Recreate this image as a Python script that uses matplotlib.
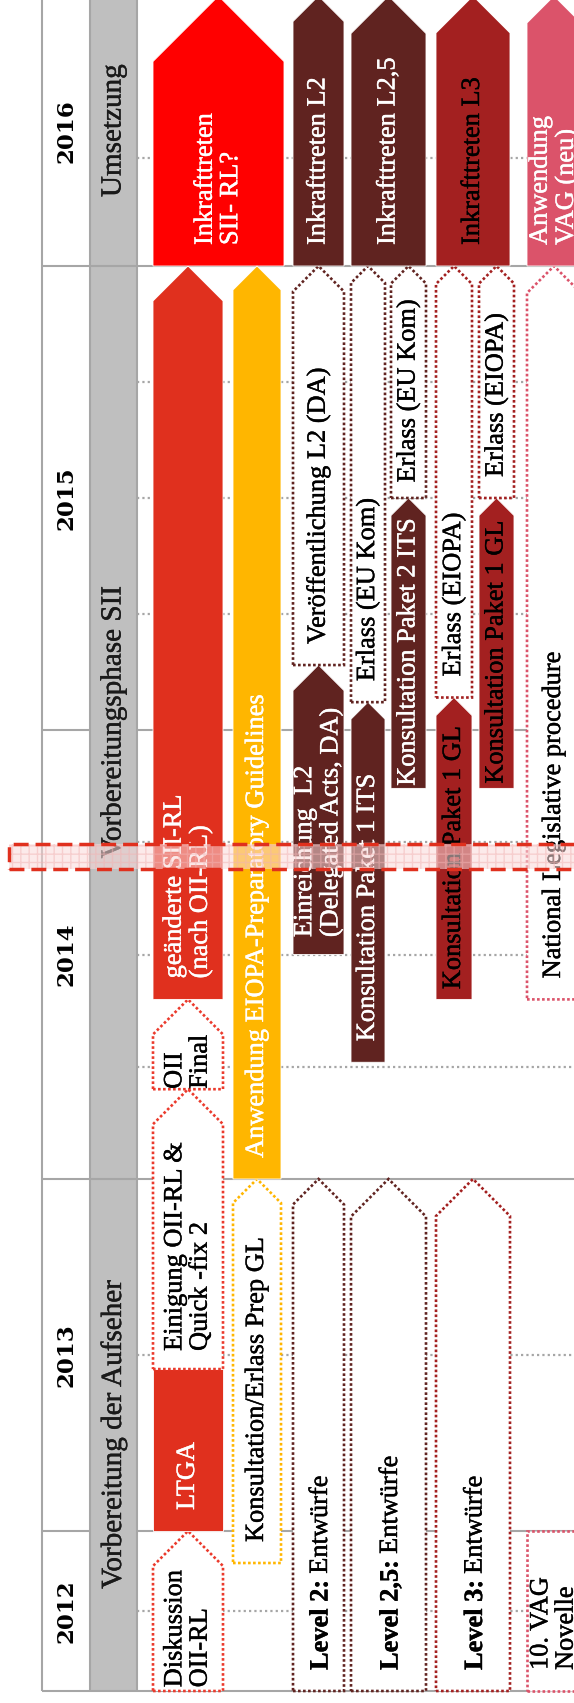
import numpy as np
import matplotlib
matplotlib.use("Agg")
import matplotlib.pyplot as plt
import matplotlib.patheffects as pe
from matplotlib.patches import Polygon, Rectangle

# timeline content, dates as decimal years
years = [2012, 2013, 2014, 2015, 2016]
phase_names = ["Vorbereitung der Aufseher", "Vorbereitungsphase SII", "Umsetzung"]
phase_start = [2012.0, 2014.0, 2016.0]
phase_end = [2014.0, 2016.0, 2017.0]
quarter_lines = [2012.5, 2013.5, 2014.25, 2014.5, 2014.75, 2015.25, 2015.5, 2015.75, 2016.4]
today_band = [2014.69, 2014.745]

labels = [
    "Diskussion\nOII-RL", "LTGA", "Einigung OII-RL &\nQuick -fix 2", "OII\nFinal",
    "geänderte SII-RL\n(nach OII-RL)", "Inkrafttreten\nSII- RL?",
    "Konsultation/Erlass Prep GL", "Anwendung EIOPA-Preparatory Guidelines",
    "Level 2: Entwürfe", "Einreichung  L2\n(Delegated Acts, DA)", "Veröffentlichung L2 (DA)", "Inkrafttreten L2",
    "Level 2,5: Entwürfe", "Konsultation Paket 1 ITS", "Erlass (EU Kom)",
    "Konsultation Paket 2 ITS", "Erlass (EU Kom)", "Inkrafttreten L2,5",
    "Level 3: Entwürfe", "Konsultation Paket 1 GL", "Erlass (EIOPA)",
    "Konsultation Paket 1 GL", "Erlass (EIOPA)", "Inkrafttreten L3",
    "10. VAG\nNovelle", "National Legislative procedure", "Anwendung\nVAG (neu)",
]
lanes = ["SII"] * 6 + ["EIOPA"] * 2 + ["L2"] * 4 + ["L2,5"] * 6 + ["L3"] * 6 + ["VAG"] * 3
slots = ["", "", "", "", "", "wide",
         "", "",
         "", "", "", "",
         "", "a", "a", "b", "b", "",
         "", "a", "a", "b", "b", "",
         "", "", ""]
starts = [2012.0, 2013.0, 2013.46, 2014.2, 2014.4, 2016.0,
          2012.8, 2014.0,
          2012.0, 2014.5, 2015.14, 2016.0,
          2012.0, 2014.26, 2015.06, 2014.87, 2015.5, 2016.0,
          2012.0, 2014.4, 2015.07, 2014.87, 2015.5, 2016.0,
          2012.0, 2014.4, 2016.0]
ends = [2013.0, 2013.46, 2014.2, 2014.4, 2016.0, 2017.0,
        2014.0, 2016.0,
        2014.0, 2015.14, 2016.0, 2017.0,
        2014.0, 2015.06, 2016.0, 2015.5, 2016.0, 2017.0,
        2014.0, 2015.07, 2016.0, 2015.5, 2016.0, 2017.0,
        2013.0, 2016.0, 2017.0]
status = ["plan", "done", "plan", "plan", "done", "done",
          "plan", "done",
          "plan", "done", "plan", "done",
          "plan", "done", "plan", "done", "plan", "done",
          "plan", "done", "plan", "done", "plan", "done",
          "plan", "plan", "done"]
pointed = [True, False, True, True, True, True,
           True, True,
           True, True, True, True,
           True, True, True, True, True, True,
           True, True, True, True, True, True,
           False, True, True]

# layout (pixels)
year_px = [160, 352, 449, 464, 270]
lane_x = {"SII": (153, 223), "EIOPA": (233, 281), "L2": (293, 344),
          "L2,5": (351, 426), "L3": (436, 510), "VAG": (527, 581)}
slot_x = {("SII", "wide"): (153, 284),
          ("L2,5", "a"): (351, 385), ("L2,5", "b"): (391, 426),
          ("L3", "a"): (436, 472), ("L3", "b"): (479, 514)}
fill_col = {"SII": "#e0301e", "EIOPA": "#ffb600", "L2": "#602320",
            "L2,5": "#602320", "L3": "#a32020", "VAG": "#db536a"}
line_col = {"SII": "#eb3a2c", "EIOPA": "#ffb600", "L2": "#602320",
            "L2,5": "#602320", "L3": "#a32020", "VAG": "#db536a"}
GRAY = "#a6a6a6"
PAD = 21
BODY = 19

plt.rcParams["font.family"] = ["Liberation Serif", "DejaVu Serif"]

fig = plt.figure(figsize=(5.74, 17.03), dpi=100)
ax = fig.add_axes([0, 0, 1, 1])
ax.axis("off")

# piecewise linear time scale: every year gets its own height
knots_t = np.arange(2011, 2019, dtype=float)
knots_p = np.concatenate([[-1000.0], np.cumsum([0] + year_px).astype(float), [2695.0]])
fwd = lambda t: np.interp(t, knots_t, knots_p)
inv = lambda p: np.interp(p, knots_p, knots_t)
ax.set_xlim(0, 574)
ax.set_yscale("function", functions=(fwd, inv))
ax.set_ylim(inv(-12), inv(1691))

ty = lambda t: ax.transData.transform((0, t))[1]
tdate = lambda py: ax.transData.inverted().transform((0, py))[1]
top = tdate(1710)

# frame, phase column, grid
ax.add_patch(Rectangle((90, 2012.0), 47, top - 2012.0, facecolor="#bfbfbf", lw=0, zorder=0))
ax.vlines([42, 90, 137], 2012.0, top, colors=GRAY, lw=1.5, zorder=1)
for y in years:
    if y in phase_start:
        ax.hlines(y, 42, 574, colors=GRAY, lw=1.5, zorder=1)
    else:
        ax.hlines(y, 42, 90, colors=GRAY, lw=1.5, zorder=1)
        ax.hlines(y, 137, 574, colors=GRAY, lw=1.5, zorder=1)
ax.hlines(quarter_lines, 137, 574, colors=GRAY, lw=1.6, linestyles=[(0, (1, 1.4))], zorder=1)

for y in years:
    ax.text(67, y + 0.5, str(y), rotation=90, ha="center", va="center",
            family="DejaVu Serif", fontweight="bold", fontsize=16.5)
for name, s, e in zip(phase_names, phase_start, phase_end):
    ax.text(113.5, tdate((ty(s) + ty(e)) / 2), name, rotation=90, ha="center",
            va="center", fontsize=21, color="#1a1a1a", zorder=2,
            path_effects=[pe.withStroke(linewidth=0.3, foreground="#1a1a1a")])

renderer = fig.canvas.get_renderer()

for lab, lane, slot, t0, t1, st, pt in zip(labels, lanes, slots, starts, ends, status, pointed):
    x0, x1 = slot_x.get((lane, slot), lane_x[lane])
    yb, yt = ty(t0), ty(t1)
    half = (x1 - x0) / 2
    ys = yt - half if pt else yt
    if pt:
        pts = [(x0, yb), (x1, yb), (x1, ys), (x0 + half, yt), (x0, ys)]
    else:
        pts = [(x0, yb), (x1, yb), (x1, yt), (x0, yt)]
    pts = [(x, tdate(y)) for x, y in pts]

    if st == "done":
        fc = "#ff0000" if slot == "wide" else fill_col[lane]
        ax.add_patch(Polygon(pts, closed=True, facecolor=fc, edgecolor="white", lw=0.6, zorder=3))
        tc = "black" if lane == "L3" else "white"
    else:
        ax.add_patch(Polygon(pts, closed=True, facecolor="white", edgecolor=line_col[lane],
                             lw=1.9, linestyle=(0, (1, 0.9)), zorder=3))
        tc = "black"

    xm = (x0 + x1) / 2
    body = ys - yb
    kw = dict(rotation=90, rotation_mode="anchor", fontsize=BODY, color=tc, zorder=4,
              path_effects=[pe.withStroke(linewidth=0.3, foreground=tc)])
    if lab.startswith("Level"):
        bold_part, rest = lab.split(": ")
        tb = ax.text(xm, tdate(yb + PAD), bold_part + ":", ha="left", va="center_baseline",
                     fontweight="bold", **kw)
        lb = tb.get_window_extent(renderer).height
        ax.text(xm, tdate(yb + PAD + lb + 6), rest, ha="left", va="center_baseline", **kw)
    else:
        t = ax.text(xm, tdate(yb + PAD), lab, ha="left", va="center", multialignment="left", **kw)
        length = t.get_window_extent(renderer).height
        if length + 2 * PAD > body:
            t.set_y(tdate((yb + ys) / 2))
            t.set_ha("center")

# highlighted band across the chart
b0, b1 = today_band
ax.add_patch(Rectangle((9, b0), 600, b1 - b0, facecolor=(0.98, 0.85, 0.85, 0.55), lw=0, zorder=5))
ax.add_patch(Rectangle((9, b0), 600, b1 - b0, facecolor="none", edgecolor="#f2b3b3",
                       hatch="++", lw=0, alpha=0.5, zorder=5))
ax.add_patch(Rectangle((9, b0), 600, b1 - b0, fill=False, edgecolor="#e0301e",
                       lw=2.5, linestyle=(0, (4.3, 2)), zorder=6))

fig.savefig("out.png", dpi=100)
